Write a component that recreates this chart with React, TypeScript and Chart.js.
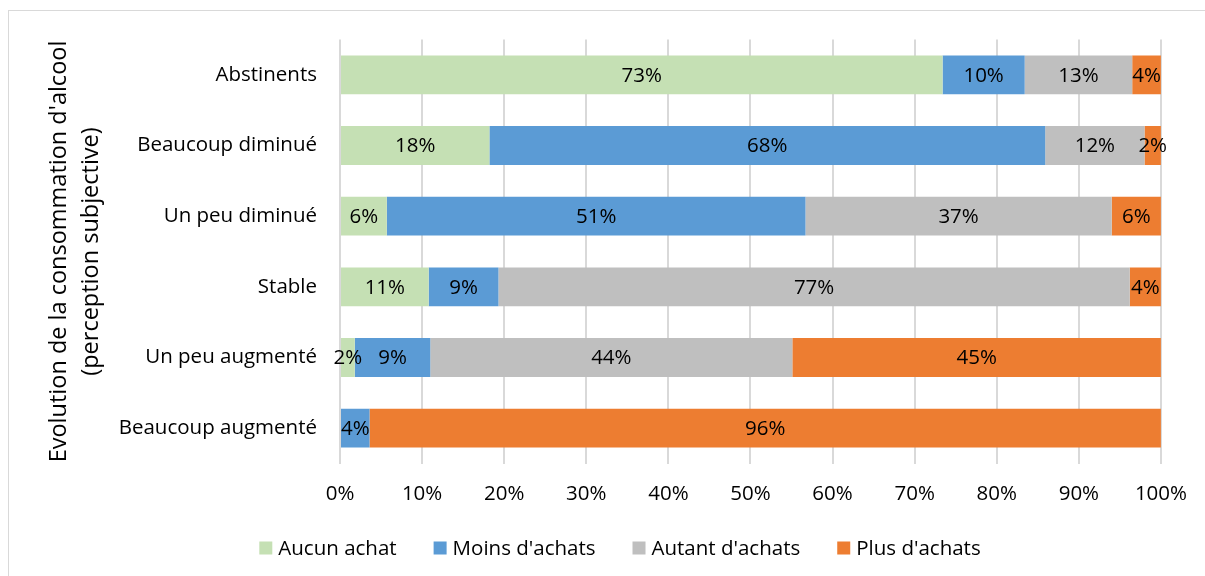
import React, { useEffect, useRef } from 'react';
import { Chart, registerables } from 'chart.js';

Chart.register(...registerables);

const categories = ['Abstinents', 'Beaucoup diminué', 'Un peu diminué', 'Stable', 'Un peu augmenté', 'Beaucoup augmenté'];
const seriesNames = ["Aucun achat", "Moins d'achats", "Autant d'achats", "Plus d'achats"];
const aucunAchat = [73.4, 18.2, 5.7, 10.8, 1.8, 0];
const moinsAchats = [10.0, 67.7, 51.0, 8.5, 9.2, 3.6];
const autantAchats = [13.1, 12.1, 37.3, 76.9, 44.1, 0];
const plusAchats = [3.5, 2.0, 6.0, 3.8, 44.9, 96.4];
const seriesColors = ['#C5E0B4', '#5B9BD5', '#BFBFBF', '#ED7D31'];
const yTitle = ["Evolution de la consommation d'alcool", '(perception subjective)'];

const FONT = "'Open Sans', sans-serif";
const FS = 20.5;

const labelPlugin = {
  id: 'segLabels',
  afterDatasetsDraw(chart: any) {
    const ctx = chart.ctx;
    ctx.save();
    ctx.font = `${FS}px ${FONT}`;
    ctx.fillStyle = '#000';
    ctx.textAlign = 'center';
    ctx.textBaseline = 'middle';
    chart.data.datasets.forEach((ds: any, di: number) => {
      const meta = chart.getDatasetMeta(di);
      meta.data.forEach((bar: any, i: number) => {
        const v = ds.data[i];
        if (!v) return;
        const cx = (bar.x + bar.base) / 2;
        ctx.fillText(Math.round(v) + '%', cx, bar.y + 1);
      });
    });
    ctx.restore();
  },
};

const legendPlugin = {
  id: 'customLegend',
  afterDraw(chart: any) {
    const ctx = chart.ctx;
    ctx.save();
    ctx.font = `${FS}px ${FONT}`;
    const box = 13;
    const gapText = 6;
    const gapItem = 37;
    const items = chart.data.datasets.map((ds: any) => ({
      label: ds.label,
      color: ds.backgroundColor,
      w: ctx.measureText(ds.label).width,
    }));
    const total = items.reduce((s: number, it: any) => s + box + gapText + it.w, 0) + gapItem * (items.length - 1);
    let x = 620 - total / 2;
    const cy = 548;
    items.forEach((it: any) => {
      ctx.fillStyle = it.color;
      ctx.fillRect(x, cy - box / 2, box, box);
      ctx.fillStyle = '#000';
      ctx.textAlign = 'left';
      ctx.textBaseline = 'middle';
      ctx.fillText(it.label, x + box + gapText, cy + 1);
      x += box + gapText + it.w + gapItem;
    });
    ctx.restore();
  },
};

export default function App() {
  const ref = useRef<HTMLCanvasElement>(null);
  useEffect(() => {
    document.body.style.overflow = 'hidden';
    const datasets = [aucunAchat, moinsAchats, autantAchats, plusAchats].map((d, i) => ({
      label: seriesNames[i],
      data: d,
      backgroundColor: seriesColors[i],
      borderWidth: 0,
      categoryPercentage: 1,
      barPercentage: 0.55,
    }));
    const chart = new Chart(ref.current as HTMLCanvasElement, {
      type: 'bar',
      data: { labels: categories, datasets },
      options: {
        indexAxis: 'y',
        responsive: false,
        animation: false,
        devicePixelRatio: 1,
        layout: { padding: { left: 0, right: 42, top: 39.5, bottom: 62.5 } },
        plugins: { legend: { display: false }, tooltip: { enabled: false } },
        font: { family: FONT, size: FS },
        scales: {
          x: {
            stacked: true,
            min: 0,
            max: 100,
            ticks: {
              stepSize: 10,
              color: '#000',
              font: { family: FONT, size: FS },
              padding: 18,
              callback: (v: any) => v + '%',
            },
            grid: { color: '#D9D9D9', lineWidth: 2, drawTicks: false },
            border: { display: false },
            afterFit: (s: any) => { s.height = 50; },
          },
          y: {
            stacked: true,
            ticks: { color: '#000', font: { family: FONT, size: FS }, padding: 15 },
            grid: { display: false },
            border: { display: false },
            title: {
              display: true,
              text: yTitle,
              color: '#000',
              font: { family: FONT, size: 23.5, lineHeight: 1.36 },
              padding: { top: 43, bottom: 0 },
            },
            afterFit: (s: any) => { s.width = 340; },
          },
        },
      },
      plugins: [labelPlugin, legendPlugin],
    });
    return () => chart.destroy();
  }, []);
  return (
    <div style={{ position: 'fixed', left: 0, top: 0, width: 1205, height: 576, overflow: 'hidden', background: '#fff' }}>
      <div style={{ position: 'absolute', left: 8, top: 10, width: 1300, height: 700, borderTop: '1px solid #D9D9D9', borderLeft: '1px solid #D9D9D9' }} />
      <canvas ref={ref} width={1205} height={576} style={{ position: 'absolute', left: 0, top: 0, width: 1205, height: 576 }} />
    </div>
  );
}
